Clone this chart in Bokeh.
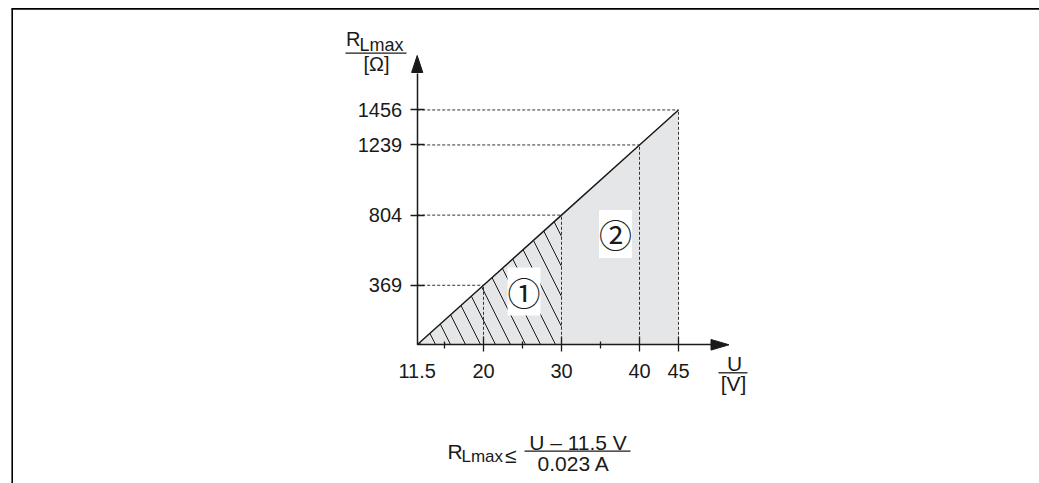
from bokeh.plotting import figure
from bokeh.models import (Range1d, LinearAxis, FixedTicker, Label)
from bokeh.embed import file_html
from bokeh.resources import INLINE

# ---- data -------------------------------------------------------------
U = [11.5, 20, 30, 40, 45]            # supply voltage [V]
R = [0, 369, 804, 1239, 1456]          # max load resistance [Ohm]
x_ticks = [20, 30, 40, 45]
x_minor = [15, 25, 35]
y_ticks = [369, 804, 1239, 1456]
hatch_end = 3                          # hatched zone: 11.5 .. 30 V

# ---- layout (pixels from page top-left) ------------------------------
W, H = 1039, 483
OX, OY = 416.7, 344.3      # axes origin
KX, KY = 7.8, 0.1613       # px per V, px per Ohm
U0 = U[0]
TS = 7                      # text baseline correction

def px2x(fx):
    return U0 + (fx - OX) / KX

def px2y(fy):
    return (OY - fy) / KY

FONT = "Liberation Sans"
INK = "#1a1a1a"

p = figure(width=W, height=H, output_backend="svg", toolbar_location=None,
           x_range=Range1d(px2x(0), px2x(W)), y_range=Range1d(px2y(H), px2y(0)),
           min_border=0, x_axis_type=None, y_axis_type=None)
p.xgrid.visible = False
p.ygrid.visible = False
p.outline_line_color = None
p.background_fill_color = "white"
p.border_fill_color = "white"

# frame lines (left + top)
FL, FT = 11.7, 8.4
p.segment(x0=[px2x(FL), px2x(FL - 0.8)], y0=[px2y(FT), px2y(FT)],
          x1=[px2x(FL), px2x(W + 2)], y1=[px2y(H + 2), px2y(FT)],
          line_color="black", line_width=1.6)

# areas
p.varea(x=U, y1=[0] * len(U), y2=R, fill_color="#e5e6e7")
p.varea(x=U[:hatch_end], y1=[0] * hatch_end, y2=R[:hatch_end], fill_color=None,
        hatch_pattern="\\", hatch_color=INK, hatch_weight=1.0, hatch_scale=30)

# dashed guides
p.segment(x0=[U0] * 4, y0=R[1:], x1=U[1:], y1=R[1:], line_color="#333333",
          line_width=1, line_dash="3 2")
p.segment(x0=U[1:], y0=[0] * 4, x1=U[1:], y1=R[1:], line_color="#333333",
          line_width=1, line_dash="3 2")

# limit line
p.line(x=U, y=R, line_color=INK, line_width=1.5)

# axes
xa = LinearAxis(fixed_location=0, ticker=FixedTicker(ticks=x_ticks, minor_ticks=x_minor),
                bounds=(U0, px2x(712)))
xa.axis_line_width = 1.5
xa.axis_line_color = INK
xa.major_tick_in, xa.major_tick_out = 8, 7
xa.minor_tick_in, xa.minor_tick_out = 3, 4
xa.major_tick_line_width = 1.3
xa.minor_tick_line_width = 1.3
xa.major_tick_line_color = INK
xa.minor_tick_line_color = INK
xa.major_label_text_font = FONT
xa.major_label_text_font_size = "20px"
xa.major_label_text_color = INK
xa.major_label_standoff = 12
p.add_layout(xa, "below")

xa0 = LinearAxis(fixed_location=0, ticker=FixedTicker(ticks=[U0], minor_ticks=[]))
xa0.axis_line_color = None
xa0.major_tick_line_color = None
xa0.major_tick_in, xa0.major_tick_out = 0, 7
xa0.major_label_text_font = FONT
xa0.major_label_text_font_size = "20px"
xa0.major_label_text_color = INK
xa0.major_label_standoff = 12
p.add_layout(xa0, "below")

ya = LinearAxis(fixed_location=U0, ticker=FixedTicker(ticks=y_ticks, minor_ticks=[]),
                bounds=(0, px2y(73)))
ya.axis_line_width = 1.5
ya.axis_line_color = INK
ya.major_tick_in, ya.major_tick_out = 7, 7
ya.major_tick_line_width = 1.3
ya.major_tick_line_color = INK
ya.major_label_text_font = FONT
ya.major_label_text_font_size = "20px"
ya.major_label_text_color = INK
ya.major_label_standoff = 8
p.add_layout(ya, "left")

# arrow heads
yt, yb, yh = 55, 72, 5.6
p.patch(x=[px2x(OX), px2x(OX - yh), px2x(OX + yh)], y=[px2y(yt), px2y(yb), px2y(yb)],
        fill_color=INK, line_color=INK)
xt, xb, xh = 728.5, 710.5, 5.3
p.patch(x=[px2x(xt), px2x(xb), px2x(xb)], y=[px2y(OY), px2y(OY - xh), px2y(OY + xh)],
        fill_color=INK, line_color=INK)

def lab(text, fx, fy, size, align="left", baseline="alphabetic", font=FONT, shift=TS, **kw):
    p.add_layout(Label(x=px2x(fx), y=px2y(fy - shift), text=text, text_font=font,
                       text_font_size=size, text_align=align, text_baseline=baseline,
                       text_color=INK, **kw))

def hline(fx0, fx1, fy, w=1.3):
    p.segment(x0=[px2x(fx0)], y0=[px2y(fy)], x1=[px2x(fx1)], y1=[px2y(fy)],
              line_color=INK, line_width=w)

# y axis title  R_Lmax / [Ω]
lab("R", 345.5, 45, "20px")
lab("Lmax", 359, 51, "18px")
hline(345, 406, 52.7)
lab("[Ω]", 376, 70, "20px", align="center")

# x axis title  U / [V]
lab("U", 734, 370, "21px", align="center")
hline(718, 747, 372.3)
lab("[V]", 733, 390, "21px", align="center")

# zone markers
lab("①", 523.5, 293, "33px", align="center", baseline="middle", shift=2,
    font="Noto Sans CJK JP", background_fill_color="white", padding=0)
lab("②", 615, 235.5, "33px", align="center", baseline="middle", shift=2,
    font="Noto Sans CJK JP", background_fill_color="white", padding=0)

# formula
lab("R", 447, 458, "21px")
lab("Lmax", 461, 463, "17px")
lab("≤", 504.5, 462, "21px")
lab("U – 11.5 V", 577.5, 449, "21px", align="center")
hline(524, 630, 450.7)
lab("0.023 A", 573.3, 470, "21px", align="center")

open("out.html", "w").write(file_html(p, INLINE))
